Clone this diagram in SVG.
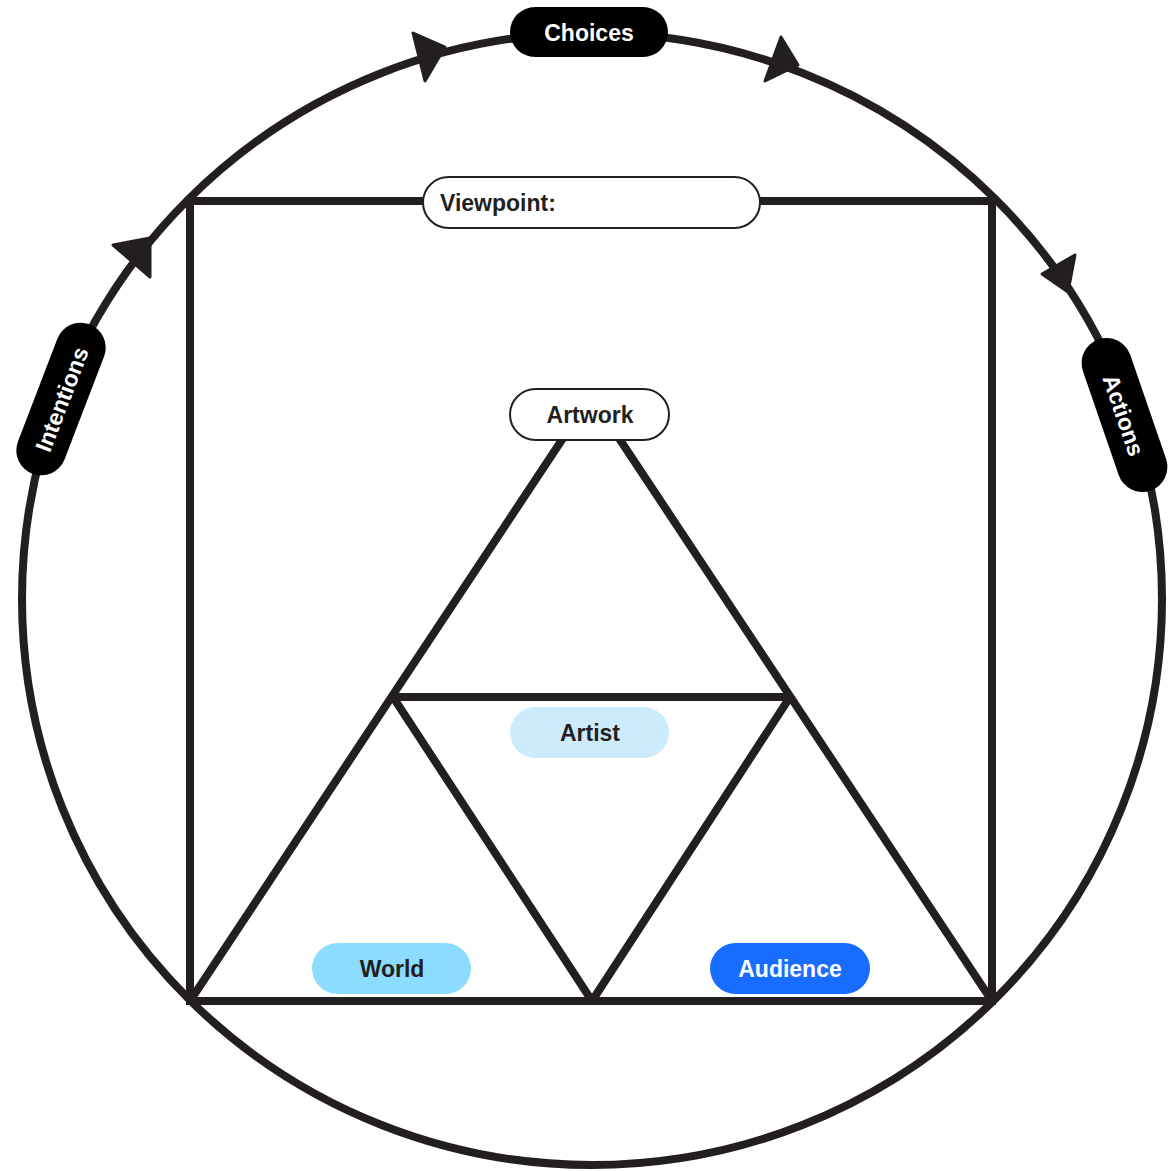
<svg xmlns="http://www.w3.org/2000/svg" width="1176" height="1171" viewBox="0 0 1176 1171">
<style>
.ln{fill:none;stroke:#231f20;stroke-width:8;stroke-linejoin:miter}
.tri{fill:none;stroke:#231f20;stroke-width:8;stroke-linejoin:bevel}
.arr{fill:#231f20;stroke:#231f20;stroke-width:3;stroke-linejoin:round}
.blk{fill:#000}
.wht{fill:#fff;stroke:#231f20;stroke-width:2}
.t{font-family:"Liberation Sans",Arial,sans-serif;font-weight:bold;font-size:23px;text-anchor:middle;dominant-baseline:central}
.tw{fill:#fff}
.td{fill:#231f20}
</style>
<rect width="1176" height="1171" fill="#fff"/>
<g id="connectors">
<ellipse class="ln" cx="592" cy="599" rx="570" ry="566"/>
<rect class="ln" x="190" y="201" width="802" height="800"/>
<polygon class="tri" points="591,396 992,1001 190,1001"/>
<polygon class="tri" points="393,697 790,697 592,1001"/>
<polygon class="arr" points="413,33 445,47 425,81"/>
<polygon class="arr" points="781,37 798,65 765,81"/>
<polygon class="arr" points="1075,255 1068,292 1042,274"/>
<polygon class="arr" points="113,245 150,238 150,277"/>
</g>
<g id="choices">
<rect class="blk" x="510" y="7" width="158" height="50" rx="25"/>
<text class="t tw" x="589" y="33">Choices</text>
</g>
<g id="intentions" transform="translate(61,399) rotate(-69)">
<rect class="blk" x="-80" y="-25" width="160" height="50" rx="25"/>
<text class="t tw" x="0" y="1">Intentions</text>
</g>
<g id="actions" transform="translate(1124.5,415) rotate(71)">
<rect class="blk" x="-80" y="-25" width="160" height="50" rx="25"/>
<text class="t tw" x="0" y="1">Actions</text>
</g>
<g id="viewpoint">
<rect class="wht" x="423" y="177" width="337" height="51" rx="25.5"/>
<text class="t td" x="440" y="203" style="text-anchor:start">Viewpoint:</text>
</g>
<g id="artwork">
<rect class="wht" x="510" y="389" width="159" height="51" rx="25.5"/>
<text class="t td" x="590" y="415">Artwork</text>
</g>
<g id="artist">
<rect x="510" y="707" width="159" height="51" rx="25.5" fill="#ccebfc"/>
<text class="t td" x="590" y="733">Artist</text>
</g>
<g id="world">
<rect x="312" y="943" width="159" height="51" rx="25.5" fill="#8bdcfe"/>
<text class="t td" x="392" y="969">World</text>
</g>
<g id="audience">
<rect x="710" y="943" width="160" height="51" rx="25.5" fill="#186cff"/>
<text class="t tw" x="790" y="969">Audience</text>
</g>
</svg>
